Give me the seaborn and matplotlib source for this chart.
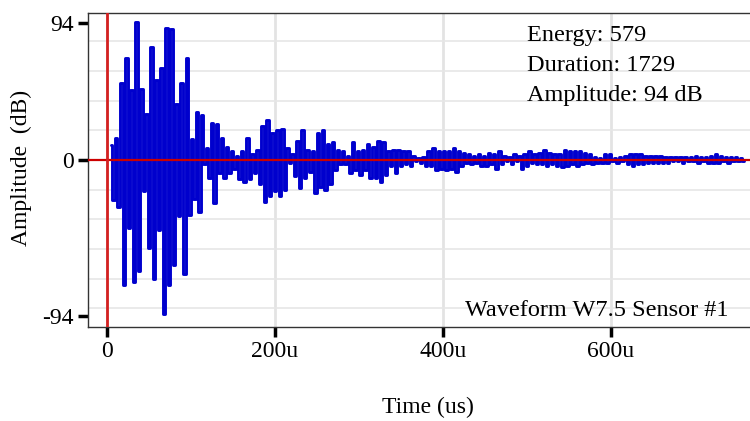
import numpy as np
import pandas as pd
import matplotlib
matplotlib.use("Agg")
import matplotlib.pyplot as plt
import seaborn as sns

sns.set_theme(style="whitegrid")
plt.rcParams['font.family'] = ['Liberation Serif', 'DejaVu Serif']

# waveform samples (amplitude), one every 3 us from t = 5 us
start_us = 5
step_us = 3
amp_burst = [10, -27, 15, -32, 52, -84, 69, -46, 47, -82,
             93, -75, 48, -21, 31, -59, 76, -80, 54, -47,
             62, -104, 89, -84, 88, -71, 38, -38, 52, -77,
             69, -37, 14, -26, 32, -35, 30, -3, 8, -12,
             25, -29, 24, -9, 15, -12, 9, -9, 6, -6,
             3, -13, 6, -15, 15, -13, 4, -9, 7, -16]
amp_coda = [23, -28, 27, -24, 18, -21, 20, -24, 21, -20,
            8, -2, 4, -11, 13, -19, 20, -12, 7, -8,
            6, -22, 18, -18, 20, -20, 11, -16, 12, -7,
            7, -3, 6, -3, 3]
amp_decay = [-9, 12, -7, 6, -10, 7, -7, 11, -12, 9,
             -12, 13, -15, 12, -10, 6, -4, 7, -9, 7,
             -4, 6, -3, 6, -4, 3, -1, 1, -2, 2,
             -4, 6, -4, 8, -7, 6, -6, 6, -7, 6,
             -6, 8, -8, 6, -4, 5, -2, 4, -3, 3,
             -2, 4, -4, 3, -4, 5, -3, 4, -6, 6,
             -3, 3, -1, 2, -3, 4, -1, 3, -6, 4,
             -4, 6, -2, 4, -3, 5, -3, 7]
amp_tail = [-4, 5, -3, 4, -4, 4, -5, 7, -4, 6,
            -3, 6, -4, 6, -3, 5, -2, 4, -3, 2,
            -2, 1, -2, 4, -2, 4, -1, 1, -2, 2,
            -1, 3, -3, 4, -4, 4, -3, 4, -3, 3,
            -2, 3, -2, 3, -2, 3, -2, 2, -2, 2,
            -1, 2, -1, 2, -2, 2, -1, 2, -1, 3,
            -2, 2, -1, 2, -2, 3, -2, 4, -2, 3,
            -1, 2, -2, 2, -1, 2, -1, 1, -1]

x_ticks = [0, 200, 400, 600]
x_labels = ["0", "200u", "400u", "600u"]
y_ticks = [-105, 0, 92]
y_labels = ["-94", "0", "94"]
info_lines = ["Energy: 579", "Duration: 1729", "Amplitude: 94 dB"]
title_text = "Waveform W7.5 Sensor #1"

amp = amp_burst + amp_coda + amp_decay + amp_tail
df = pd.DataFrame({"time": start_us + step_us * np.arange(len(amp)), "amp": amp})

fig = plt.figure(figsize=(7.5, 4.21), dpi=100)
ax = fig.add_axes([88 / 750, 94 / 421, 662 / 750, 314 / 421])

ax.grid(False)
ax.set_yticks(np.arange(-100, 100, 20), minor=True)
ax.yaxis.grid(True, which="minor", color="#e6e6e6", lw=1.2)
ax.xaxis.grid(True, which="major", color="#e3e3e3", lw=2)

sns.lineplot(data=df, x="time", y="amp", ax=ax, color="#0000cd", lw=2.1,
             drawstyle="steps-mid", estimator=None, sort=False)

ax.axhline(0, color="#cc0000", lw=1.6, zorder=5)
ax.axvline(0, color="#d42020", lw=2.0, zorder=5)

ax.set_xlim(-22.6, 765.5)
ax.set_ylim(-112.5, 99)
ax.set_xticks(x_ticks)
ax.set_xticklabels(x_labels)
ax.set_yticks(y_ticks)
ax.set_yticklabels(y_labels)
ax.tick_params(which="major", bottom=True, left=True, length=7, width=2.5,
               color="black", labelsize=17, pad=3, labelcolor="black")
ax.tick_params(which="minor", length=0)

for s in ["top", "left", "bottom"]:
    ax.spines[s].set_visible(True)
    ax.spines[s].set_color("#333333")
    ax.spines[s].set_linewidth(1.0)
ax.spines["right"].set_visible(False)

ax.set_xlabel("Time (us)", fontsize=17, color="black")
ax.set_ylabel("Amplitude  (dB)", fontsize=17, color="black")
ax.xaxis.set_label_coords(0.513, -0.223)
ax.yaxis.set_label_coords(-0.085, 0.506)

for txt, yy in zip(info_lines, [0.911, 0.814, 0.721]):
    ax.text(0.663, yy, txt, transform=ax.transAxes, fontsize=17.5,
            ha="left", va="baseline", color="black")
ax.text(0.967, 0.035, title_text, transform=ax.transAxes, fontsize=17.5,
        ha="right", va="baseline", color="black")

fig.savefig("out.png", dpi=100)
